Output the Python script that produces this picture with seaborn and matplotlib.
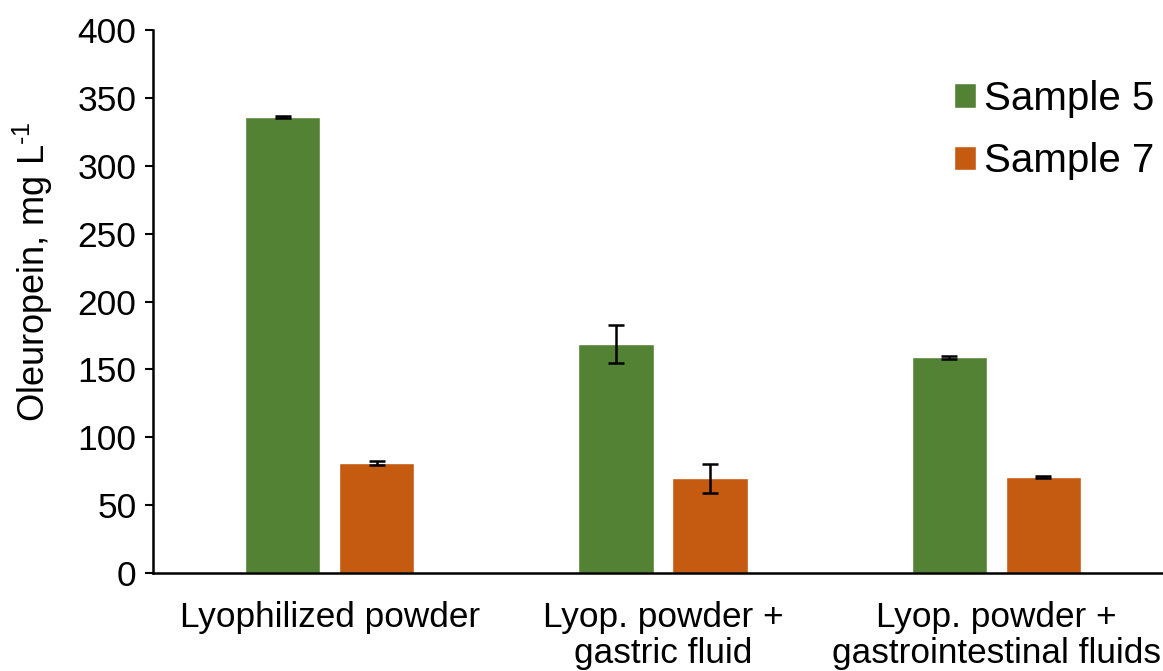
import numpy as np
import pandas as pd
import matplotlib
matplotlib.use("Agg")
import matplotlib.pyplot as plt
import seaborn as sns

# Oleuropein content (mg/L) with standard deviations
categories = ["Lyophilized powder", "Lyop. powder +\ngastric fluid", "Lyop. powder +\ngastrointestinal fluids"]
samples = ["Sample 5", "Sample 7"]
sample5_values = [336, 169, 159]
sample5_errors = [0.8, 14, 1.2]
sample7_values = [81, 70, 70.5]
sample7_errors = [1.5, 10.7, 0.8]
palette = {"Sample 5": "#548235", "Sample 7": "#C55A11"}

df = pd.DataFrame({
    "category": categories * 2,
    "sample": [samples[0]] * 3 + [samples[1]] * 3,
    "value": sample5_values + sample7_values,
    "err": sample5_errors + sample7_errors,
})

sns.set_theme(style="white")
plt.rcParams["font.family"] = ["Liberation Sans", "DejaVu Sans"]
plt.rcParams["mathtext.fontset"] = "custom"
plt.rcParams["mathtext.rm"] = "Liberation Sans"
plt.rcParams["mathtext.it"] = "Liberation Sans"
plt.rcParams["text.color"] = "black"

fig = plt.figure(figsize=(11.63, 6.71), dpi=100)
ax = fig.add_axes([0.1316, 0.146, 0.8684, 0.809])

sns.barplot(data=df, x="category", y="value", hue="sample", order=categories,
            hue_order=samples, palette=palette, width=0.565, gap=0.2,
            errorbar=None, saturation=1, ax=ax)

# error bars positioned on the drawn bars
for container, s in zip(ax.containers, samples):
    sub = df[df["sample"] == s].set_index("category").loc[categories]
    xs = [p.get_x() + p.get_width() / 2 for p in container.patches]
    ax.errorbar(xs, sub["value"].values, yerr=sub["err"].values, fmt="none",
                ecolor="black", elinewidth=1.8, capsize=5.5, capthick=1.8, zorder=5)

ax.set_ylim(0, 400)
ax.set_xlim(-0.53, 2.5)
ax.set_yticks(np.arange(0, 401, 50))
ax.tick_params(axis="y", labelsize=25.5, length=6, width=1.5, direction="out", left=True, pad=6, colors="black")
ax.tick_params(axis="x", labelsize=25.3, length=0, pad=20, colors="black")
for lbl in ax.get_xticklabels():
    lbl.set_linespacing(1.12)
ax.set_xlabel("")
ax.set_ylabel("Oleuropein, mg L$^{\\text{-1}}$", fontsize=26, color="black")
ax.yaxis.set_label_coords(-0.097, 0.555)

sns.despine(ax=ax)
for side in ("left", "bottom"):
    ax.spines[side].set_color("black")
    ax.spines[side].set_linewidth(1.8)

leg = ax.legend(loc="upper right", bbox_to_anchor=(1.015, 0.953), frameon=False, fontsize=29,
                handlelength=0.55, handleheight=0.55, handletextpad=0.2, labelspacing=0.6,
                borderaxespad=0.2, labelcolor="black")

fig.savefig("out.png", dpi=100)
